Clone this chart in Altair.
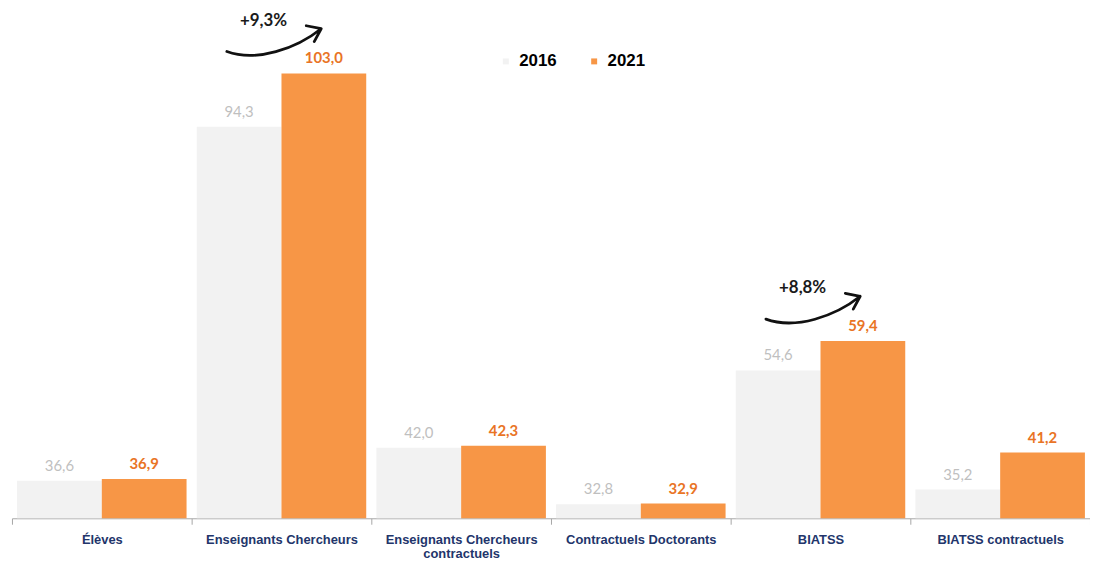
import altair as alt
import pandas as pd

categories = ["Élèves", "Enseignants Chercheurs", "Enseignants Chercheurs contractuels",
              "Contractuels Doctorants", "BIATSS", "BIATSS contractuels"]
years = ["2016", "2021"]
values_2016 = [36.6, 94.3, 42.0, 32.8, 54.6, 35.2]
values_2021 = [36.9, 103.0, 42.3, 32.9, 59.4, 41.2]
y_min, y_max = 30.5, 113

ann_categories = ["Enseignants Chercheurs", "BIATSS"]
ann_labels = ["+9,3%", "+8,8%"]

rows = []
for c, v16, v21 in zip(categories, values_2016, values_2021):
    for y, v in zip(years, [v16, v21]):
        rows.append({"cat": c, "year": y, "value": v, "label": f"{v:.1f}".replace(".", ",")})
df = pd.DataFrame(rows)

df_ann = pd.DataFrame({
    "cat": ann_categories,
    "label": ann_labels,
    "value": [values_2021[categories.index(c)] for c in ann_categories],
})

label_expr = ("datum.label == 'Enseignants Chercheurs contractuels' ? "
              "['Enseignants Chercheurs', 'contractuels'] : datum.label")

x_enc = alt.X("cat:N", sort=categories,
              scale=alt.Scale(paddingInner=0, paddingOuter=0),
              axis=alt.Axis(title=None, labelAngle=0, tickBand="extent",
                            domainColor="#a6a6a6", tickColor="#a6a6a6", tickSize=6,
                            labelPadding=9, labelExpr=label_expr, labelFontSize=13,
                            labelFontWeight="bold", labelColor="#22356b",
                            labelFont="Liberation Sans", labelLineHeight=15,
                            labelLimit=400))
y_scale = alt.Scale(domain=[y_min, y_max], zero=False, nice=False)
xoff = alt.XOffset("year:N", sort=years, scale=alt.Scale(paddingOuter=0.06, paddingInner=0))

base = alt.Chart(df).encode(x=x_enc, xOffset=xoff,
                            y=alt.Y("value:Q", scale=y_scale, axis=None))

bars = base.mark_bar().encode(
    y2=alt.datum(y_min),
    color=alt.Color("year:N", sort=years,
                    scale=alt.Scale(domain=years, range=["#f2f2f2", "#f79646"]),
                    legend=alt.Legend(title=None, orient="none", legendX=489, legendY=41,
                                      direction="horizontal", symbolType="square",
                                      symbolSize=36, symbolStrokeWidth=0,
                                      labelFont="Liberation Sans", labelFontSize=17,
                                      labelFontWeight="bold", labelColor="#000000",
                                      columnPadding=29, labelOffset=5))
)

txt16 = base.transform_filter(alt.datum.year == "2016").mark_text(
    baseline="bottom", dy=-7, fontSize=15, font="Lato", color="#bfbfbf"
).encode(text="label:N")

txt21 = base.transform_filter(alt.datum.year == "2021").mark_text(
    baseline="bottom", dy=-7, fontSize=15, font="Lato", fontWeight="bold", color="#e97425"
).encode(text="label:N")

arrow_path = ("M-1.1,-0.44 C-0.5,-0.22 0.3,-0.5 0.8,-0.9 "
              "M0.5,-0.96 L0.8,-0.9 L0.66,-0.64")

ann_base = alt.Chart(df_ann).encode(
    x=alt.X("cat:N", sort=categories),
    y=alt.Y("value:Q", scale=y_scale),
)
arrows = ann_base.mark_point(shape=arrow_path, size=10000, filled=False,
                             stroke="#111111", strokeWidth=2.8, opacity=1,
                             strokeCap="round", strokeJoin="round")
ann_text = ann_base.mark_text(dx=-18, dy=-53, fontSize=17, font="Lato",
                              fontWeight="bold", color="#1a1a1a").encode(text="label:N")

chart = alt.layer(bars, txt16, txt21, arrows, ann_text).properties(
    width=1086, height=510,
    padding={"left": 4, "top": 2, "right": 0, "bottom": 43},
    autosize=alt.AutoSizeParams(type="none"),
    background="white",
).configure_view(stroke=None)

chart.save("out.html", embed_options={"renderer": "svg", "actions": False})
